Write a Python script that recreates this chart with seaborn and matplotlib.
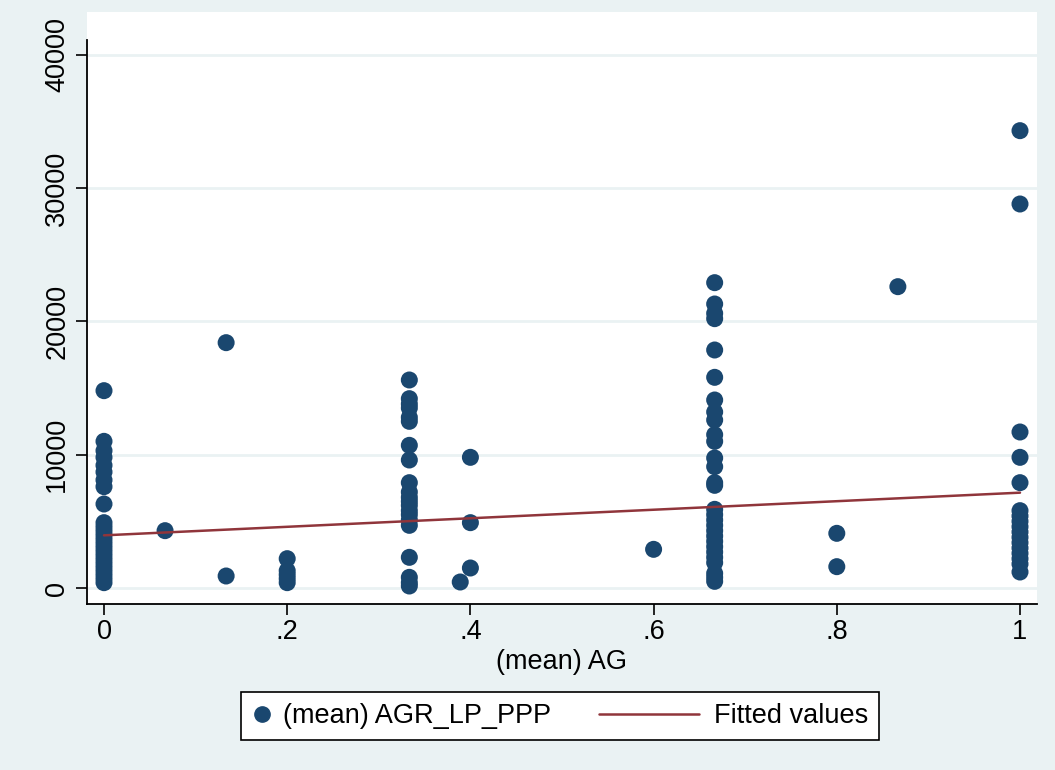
#recreate the scatter + fitted line chart (Stata s2color look) with seaborn
import pandas as pd
import numpy as np
import matplotlib
import matplotlib.pyplot as plt
from matplotlib.lines import Line2D
from matplotlib.legend_handler import HandlerLine2D
import seaborn as sns

sns.set_style('white')
plt.rcParams['font.family'] = ['Liberation Sans', 'DejaVu Sans']
matplotlib.rcParams['font.size'] = 19.5
matplotlib.rcParams['text.color'] = 'black'
matplotlib.rcParams['xtick.color'] = 'black'
matplotlib.rcParams['ytick.color'] = 'black'
matplotlib.rcParams['axes.labelcolor'] = 'black'

# values, one list per x position
y_at_0 = [14800, 11000, 10300, 9800, 9200, 8700, 8100, 7600, 6300,
          4900, 4600, 4300, 4000, 3700, 3400, 3100, 2800, 2500, 2200,
          1900, 1600, 1300, 1000, 700, 400]
y_at_007 = [4300]
y_at_013 = [18400, 900]
y_at_020 = [2200, 1300, 1000, 700, 400]
y_at_033 = [15600, 14200, 13800, 13500, 12800, 12500, 10700, 9600, 7900,
            7200, 6800, 6500, 6200, 5800, 5500, 5100, 4700, 2300, 800, 400, 150]
y_at_039 = [450]
y_at_040 = [9800, 4900, 1500]
y_at_060 = [2900]
y_at_067 = [22900, 21300, 20600, 20200, 17850, 15800, 14100, 13200, 12600,
            11500, 11000, 9750, 9100, 7900, 7700, 5900, 5500, 5100, 4700,
            4300, 3900, 3500, 3100, 2700, 2300, 1900, 1100, 800, 500]
y_at_080 = [4100, 1600]
y_at_087 = [22600]
y_at_1 = [34300, 28800, 11700, 9800, 7900, 5800, 5400, 5000, 4600, 4200,
          3800, 3400, 3000, 2600, 2200, 1800, 1200]

x_positions = [0, 1/15, 2/15, 0.2, 1/3, 0.3889, 0.4, 0.6, 2/3, 0.8, 13/15, 1]
y_groups = [y_at_0, y_at_007, y_at_013, y_at_020, y_at_033, y_at_039,
            y_at_040, y_at_060, y_at_067, y_at_080, y_at_087, y_at_1]

# fitted values line (ends)
fit_x = [0, 1]
fit_y = [3950, 7150]

x_ticks = [0, 0.2, 0.4, 0.6, 0.8, 1]
x_tick_labels = ['0', '.2', '.4', '.6', '.8', '1']
y_ticks = [0, 10000, 20000, 30000, 40000]

rows = []
for xv, ys in zip(x_positions, y_groups):
    for yv in ys:
        rows.append((xv, yv))
df = pd.DataFrame(rows, columns=['AG', 'AGR_LP_PPP'])
fit_df = pd.DataFrame({'AG': fit_x, 'fit': fit_y})

navy = '#1A476F'
maroon = '#90353B'
bg = '#EAF2F3'


# legend line drawn wider than its handle box, reaching to the left (Stata style)
class WideLine(HandlerLine2D):
    def get_xdata(self, legend, xdescent, ydescent, width, height, fontsize):
        xd = np.array([-xdescent + width - 76.0, -xdescent + width - 4.0])
        return xd, xd


fig = plt.figure(figsize=(10.55, 7.7), dpi=100, facecolor=bg)
ax = fig.add_axes([87/1055, 1-604/770, 950/1055, 592/770])
ax.set_facecolor('white')

for yt in y_ticks:
    ax.axhline(yt, color=bg, lw=2, zorder=0)

sns.scatterplot(data=df, x='AG', y='AGR_LP_PPP', color=navy, s=150,
                edgecolor='none', ax=ax, zorder=3, legend=False)
sns.lineplot(data=fit_df, x='AG', y='fit', color=maroon, lw=1.8, ax=ax, zorder=4)

ax.set_xlim(-17/916, 1+17/916)
ax.set_ylim(-1200, 43200)
ax.set_xticks(x_ticks)
ax.set_xticklabels(x_tick_labels)
ax.set_yticks(y_ticks)
ax.set_yticklabels([str(v) for v in y_ticks], rotation=90, va='center')
ax.tick_params(axis='both', length=8, width=1.2, color='black', labelsize=19.5,
               labelcolor='black', direction='out', left=True, bottom=True)
ax.tick_params(axis='y', pad=4)
ax.tick_params(axis='x', pad=3)

for side in ['top', 'right']:
    ax.spines[side].set_visible(False)
ax.spines['left'].set_bounds(-1200, 41100)
ax.spines['left'].set_linewidth(1.3)
ax.spines['bottom'].set_linewidth(1.3)
ax.spines['left'].set_color('black')
ax.spines['bottom'].set_color('black')

ax.set_xlabel('(mean) AG', fontsize=19.5, labelpad=3, color='black')
ax.set_ylabel('')

dot = Line2D([], [], marker='o', color=navy, ls='none', markersize=11)
fitline = Line2D([], [], color=maroon, lw=1.8)
leg = fig.legend([dot, fitline], ['(mean) AGR_LP_PPP', 'Fitted values'], ncol=2,
                 loc='center', bbox_to_anchor=(560/1055, 1-716/770),
                 frameon=True, fancybox=False, framealpha=1, edgecolor='black',
                 handlelength=0.8, handletextpad=0.35, columnspacing=4.9,
                 borderpad=0.4, fontsize=19.5, handler_map={fitline: WideLine()})
leg.get_frame().set_linewidth(1.2)

plt.savefig('out.png', dpi=100, facecolor=bg)
